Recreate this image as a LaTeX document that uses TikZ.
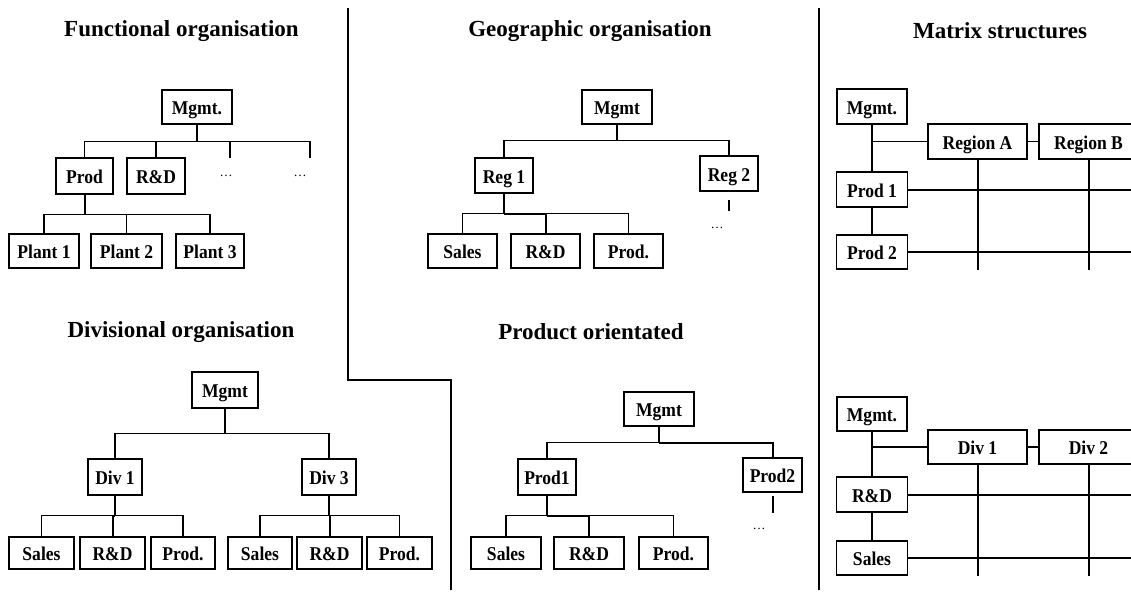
\documentclass[tikz,border=0pt]{standalone}
\usepackage{fontspec}
\setmainfont{Liberation Serif}
\newfontfamily\labelfont[FakeStretch=0.9]{Liberation Serif}
\begin{document}
\begin{tikzpicture}[x=1pt,y=-1pt,
  box/.style={draw, line width=1.3pt, inner sep=0pt,
    text height=15pt, text depth=0pt,
    font=\labelfont\bfseries\fontsize{19.5}{19.5}\selectfont},
  sz/.style 2 args={minimum width=#1pt, minimum height=#2pt},
  heading/.style={font=\bfseries\fontsize{23}{23}\selectfont, inner sep=0pt},
  more/.style={font=\fontsize{13}{13}\selectfont, inner sep=0pt},
  link/.style={line width=1.1pt},
  heavy/.style={line width=2pt},
  divider/.style={line width=2pt}]
\clip (0,0) rectangle (1131,591);
\useasboundingbox (0,0) rectangle (1131,591);

% panel separators
\draw[divider] (348,8) -- (348,380) -- (451,380) -- (451,590);
\draw[divider] (819,8) -- (819,590);

% ---------- Functional organisation ----------
\node[heading] (ftitle) at (181.5,31) {Functional organisation};
\node[box, sz={70}{34}] (fmgmt) at (197,107) {Mgmt.};
\node[box, sz={57}{36}] (fprod) at (84.5,176) {Prod};
\node[box, sz={58}{36}] (frd) at (156,176) {R\&D};
\node[more] (fdots1) at (226,176) {…};
\node[more] (fdots2) at (300,176) {…};
\coordinate (fd1) at (230,158);
\coordinate (fd2) at (310,158);
\node[box, sz={70}{34}] (fp1) at (44,251) {Plant 1};
\node[box, sz={71}{34}] (fp2) at (126.5,251) {Plant 2};
\node[box, sz={68}{34}] (fp3) at (210,251) {Plant 3};

\draw[heavy] (fmgmt.south) -- ++(0,17) coordinate (fbus);
\draw[link] (fprod.north) |- (fbus);
\draw[link] (frd.north) |- (fbus);
\draw[link] (fbus) -| (fd2);
\draw[heavy] (fd1) -- (fd1 |- fbus);
\draw[heavy] (fd2) -- ++(0,-8);
\draw[heavy] (fprod.south) -- ++(0,20) coordinate (fbus2);
\draw[link] (fp1.north) |- (fbus2);
\draw[link] (fp2.north) |- (fbus2);
\draw[link] (fp3.north) |- (fbus2);

% ---------- Geographic organisation ----------
\node[heading] (gtitle) at (590,31) {Geographic organisation};
\node[box, sz={70}{34}] (gmgmt) at (617,107) {Mgmt};
\node[box, sz={58}{35}] (greg1) at (504,175.5) {Reg 1};
\node[box, sz={58}{35}] (greg2) at (729,173.5) {Reg 2};
\node[more] (gdots) at (717,228) {…};
\node[box, sz={69}{34}] (gsales) at (462.5,251) {Sales};
\node[box, sz={69}{34}] (grd) at (545.5,251) {R\&D};
\node[box, sz={69}{34}] (gprod) at (628.5,251) {Prod.};

\draw[heavy] (gmgmt.south) -- ++(0,16) coordinate (gbus);
\draw[link] (greg1.north) |- (gbus);
\draw[link] (greg2.north) |- (gbus);
\draw[heavy] (greg2.south) ++(0,8) -- ++(0,11);
\draw[heavy] (greg1.south) -- ++(0,20) coordinate (gbus2);
\draw[link] (gsales.north) |- (gbus2);
\draw[heavy] (grd.north) |- (gbus2);
\draw[link] (gprod.north) |- (gbus2);

% ---------- Matrix structures (regions) ----------
\node[heading] (mtitle) at (1000,31) {Matrix structures};
\coordinate (mright) at (1131,0);
\node[box, sz={70}{35}] (mmgmt) at (872,106.5) {Mgmt.};
\node[box, sz={99}{35}] (mra) at (977.5,141.5) {Region A};
\node[box, sz={99}{35}] (mrb) at (1088.5,141.5) {Region B};
\node[box, sz={71}{35}] (mp1) at (872,189.5) {Prod 1};
\node[box, sz={71}{34}] (mp2) at (872,252) {Prod 2};

\draw[link] (mmgmt.south) -- (mp1.north);
\draw[link] (mmgmt.south |- mra.west) -- (mra.west);
\draw[link] (mra.east) -- (mrb.west);
\draw[link] (mp1.south) -- (mp2.north);
\draw[heavy] (mp1.east) -- (mp1.east -| mright);
\draw[heavy] (mp2.east) -- (mp2.east -| mright);
\draw[heavy] (mra.south) -- (mra.south |- mp2.south);
\draw[heavy] (mrb.south) -- (mrb.south |- mp2.south);

% ---------- Divisional organisation ----------
\node[heading] (dtitle) at (181,332) {Divisional organisation};
\node[box, sz={66}{36}] (dmgmt) at (225,390) {Mgmt};
\node[box, sz={54}{36}] (ddiv1) at (115,477) {Div 1};
\node[box, sz={54}{36}] (ddiv3) at (329,477) {Div 3};
\node[box, sz={65}{32}] (dsales1) at (41.5,553) {Sales};
\node[box, sz={65}{32}] (drd1) at (112.5,553) {R\&D};
\node[box, sz={64}{32}] (dprod1) at (183,553) {Prod.};
\node[box, sz={64}{32}] (dsales3) at (260,553) {Sales};
\node[box, sz={65}{32}] (drd3) at (329.5,553) {R\&D};
\node[box, sz={65}{32}] (dprod3) at (399.5,553) {Prod.};

\draw[heavy] (dmgmt.south) -- ++(0,25) coordinate (dbus);
\draw[link] (ddiv1.north) |- (dbus);
\draw[link] (ddiv3.north) |- (dbus);
\draw[link] (ddiv1.south) -- ++(0,20) coordinate (dbus1);
\draw[link] (dsales1.north) |- (dbus1);
\draw[heavy] (drd1.north) |- (dbus1);
\draw[link] (dprod1.north) |- (dbus1);
\draw[link] (ddiv3.south) -- ++(0,20) coordinate (dbus3);
\draw[link] (dsales3.north) |- (dbus3);
\draw[heavy] (drd3.north) |- (dbus3);
\draw[link] (dprod3.north) |- (dbus3);

% ---------- Product orientated ----------
\node[heading] (ptitle) at (591,332) {Product orientated};
\node[box, sz={70}{34}] (pmgmt) at (659,409) {Mgmt};
\node[box, sz={58}{36}] (pprod1) at (547,477) {Prod1};
\node[box, sz={59}{34}] (pprod2) at (772.5,475) {Prod2};
\node[more] (pdots) at (759,529) {…};
\node[box, sz={70}{32}] (psales) at (506,553) {Sales};
\node[box, sz={70}{32}] (prd) at (589,553) {R\&D};
\node[box, sz={69}{32}] (pprod) at (673.5,553) {Prod.};

\draw[heavy] (pmgmt.south) -- ++(0,16) coordinate (pbus);
\draw[link] (pprod1.north) |- (pbus);
\draw[heavy] (pprod2.north) |- (pbus);
\draw[heavy] (pprod2.south) ++(0,3) -- ++(0,17);
\draw[link] (pprod1.south) -- ++(0,20) coordinate (pbus2);
\draw[link] (psales.north) |- (pbus2);
\draw[heavy] (prd.north) |- (pbus2);
\draw[link] (pprod.north) |- (pbus2);

% ---------- Matrix structures (divisions) ----------
\node[box, sz={70}{34}] (nmgmt) at (872,414) {Mgmt.};
\node[box, sz={99}{34}] (nd1) at (977.5,447) {Div 1};
\node[box, sz={99}{34}] (nd2) at (1088.5,447) {Div 2};
\node[box, sz={71}{35}] (nrd) at (872,494.5) {R\&D};
\node[box, sz={71}{34}] (nsales) at (872,558) {Sales};

\draw[link] (nmgmt.south) -- (nrd.north);
\draw[link] (nmgmt.south |- nd1.west) -- (nd1.west);
\draw[link] (nd1.east) -- (nd2.west);
\draw[link] (nrd.south) -- (nsales.north);
\draw[heavy] (nrd.east) -- (nrd.east -| mright);
\draw[heavy] (nsales.east) -- (nsales.east -| mright);
\draw[heavy] (nd1.south) -- (nd1.south |- nsales.south);
\draw[heavy] (nd2.south) -- (nd2.south |- nsales.south);
\end{tikzpicture}
\end{document}
